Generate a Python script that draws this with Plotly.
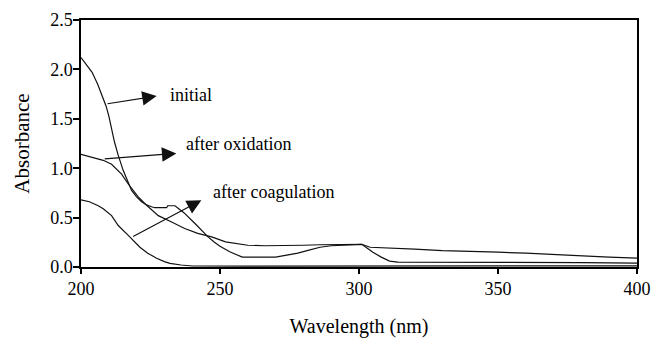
import plotly.graph_objects as go

# Data
wl_initial = [200, 202, 204, 206, 208, 209, 210, 212, 213.4, 215.2, 218.2, 220, 221.8, 223.5,
              225.4, 226.5, 230.8, 231.2, 233.8, 237, 241, 245.7, 248, 250, 253.5, 256, 258, 262,
              266, 270, 274, 278, 282, 286, 290, 294, 296, 301, 303, 305, 308, 311, 314, 340,
              360, 380, 400]
abs_initial = [2.12, 2.05, 1.97, 1.85, 1.70, 1.63, 1.53, 1.27, 1.13, 0.976, 0.775, 0.71, 0.66,
               0.63, 0.61, 0.60, 0.60, 0.62, 0.62, 0.55, 0.44, 0.305, 0.25, 0.21, 0.155, 0.12,
               0.10, 0.10, 0.10, 0.10, 0.12, 0.14, 0.17, 0.20, 0.215, 0.22, 0.23, 0.23, 0.19,
               0.15, 0.10, 0.06, 0.05, 0.05, 0.045, 0.045, 0.04]

wl_oxid = [200, 201.4, 204, 206.2, 208, 211, 213, 214.6, 217, 220.6, 223, 225.5, 227.8, 232.6,
           237.3, 242, 247, 252, 256, 260, 266, 272, 280, 286, 294, 301, 304, 310, 320, 330,
           340, 350, 360, 370, 380, 390, 400]
abs_oxid = [1.14, 1.13, 1.11, 1.094, 1.08, 1.04, 0.99, 0.94, 0.84, 0.71, 0.64, 0.58, 0.52, 0.456,
            0.39, 0.34, 0.305, 0.255, 0.235, 0.22, 0.215, 0.215, 0.22, 0.225, 0.23, 0.23, 0.20,
            0.19, 0.18, 0.165, 0.16, 0.15, 0.14, 0.125, 0.11, 0.10, 0.09]

wl_coag = [200, 203, 206.2, 208, 211, 213.4, 217, 219, 221.2, 224, 227.2, 230, 232, 236, 240,
           260, 300, 330, 360, 400]
abs_coag = [0.68, 0.66, 0.62, 0.59, 0.52, 0.42, 0.32, 0.26, 0.20, 0.14, 0.088, 0.055, 0.037,
            0.02, 0.01, 0.008, 0.008, 0.01, 0.012, 0.012]

labels = ["initial", "after oxidation", "after coagulation"]
# arrow tails, heads and label anchors (data units)
arrow_tail_x = [209, 208, 218.2]
arrow_tail_y = [1.65, 1.094, 0.30]
arrow_head_x = [227.2, 234.3, 243.3]
arrow_head_y = [1.73, 1.15, 0.675]
label_x = [231.2, 237.0, 246.9]
label_y = [1.74, 1.25, 0.76]

FONT = "Liberation Serif"

fig = go.Figure()
for xs, ys in [(wl_initial, abs_initial), (wl_oxid, abs_oxid), (wl_coag, abs_coag)]:
    fig.add_trace(go.Scatter(x=xs, y=ys, mode="lines",
                             line=dict(color="#111111", width=1.2),
                             showlegend=False, hoverinfo="skip"))

for i, lab in enumerate(labels):
    fig.add_annotation(x=arrow_head_x[i], y=arrow_head_y[i], ax=arrow_tail_x[i], ay=arrow_tail_y[i],
                       xref="x", yref="y", axref="x", ayref="y", text="",
                       showarrow=True, arrowhead=2, arrowsize=2.4, arrowwidth=1.2,
                       arrowcolor="#111111")
    fig.add_annotation(x=label_x[i], y=label_y[i], xref="x", yref="y", text=lab,
                       showarrow=False, xanchor="left", yanchor="middle",
                       font=dict(family=FONT, size=18, color="black"))

fig.update_layout(
    width=653, height=338,
    margin=dict(l=81, r=16, t=20, b=71, autoexpand=False),
    paper_bgcolor="white", plot_bgcolor="white",
    font=dict(family=FONT, size=18, color="black"),
    showlegend=False,
)
fig.update_xaxes(range=[200, 400], tickvals=[200, 250, 300, 350, 400], automargin=False,
                 showgrid=False, zeroline=False, showline=True, linecolor="black",
                 linewidth=1.5, mirror=True, ticks="outside", ticklen=5, tickwidth=1.5,
                 tickcolor="black", tickfont=dict(family=FONT, size=18),
                 title=dict(text="Wavelength (nm)", font=dict(family=FONT, size=20), standoff=22))
fig.update_yaxes(range=[0, 2.5], tickvals=[0, 0.5, 1.0, 1.5, 2.0, 2.5], tickformat=".1f",
                 automargin=False, ticklabelstandoff=-3,
                 showgrid=False, zeroline=False, showline=True, linecolor="black",
                 linewidth=1.5, mirror=True, ticks="outside", ticklen=6, tickwidth=1.5,
                 tickcolor="black", tickfont=dict(family=FONT, size=18),
                 title=dict(text="Absorbance", font=dict(family=FONT, size=21), standoff=15))

fig.write_html("out.html")
